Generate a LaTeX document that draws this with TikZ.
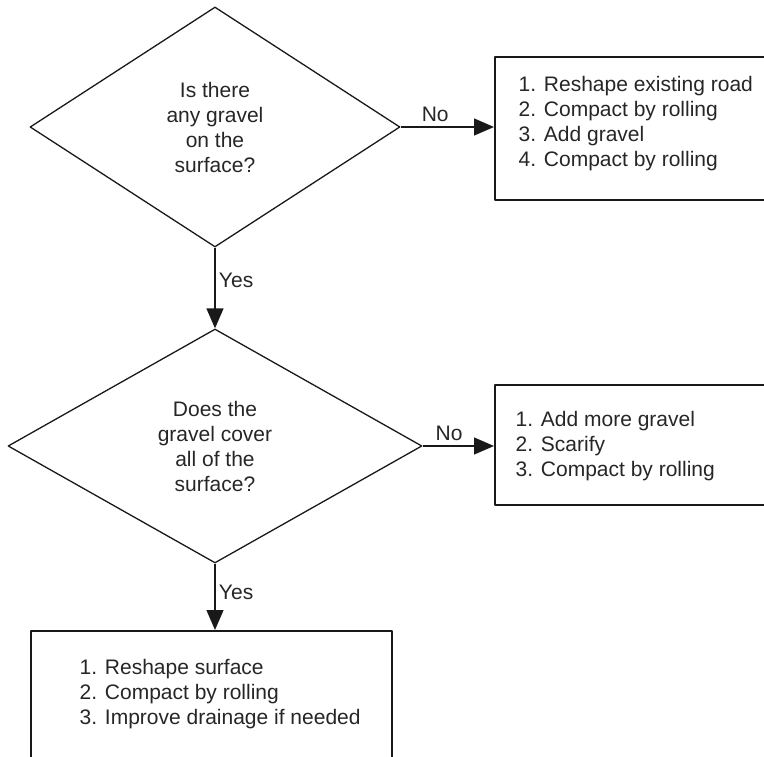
\documentclass[tikz,border=0pt]{standalone}
\usepackage{fontspec}
\setmainfont{Liberation Sans}
\usetikzlibrary{shapes.geometric,arrows.meta}

\begin{document}
\begin{tikzpicture}[x=1pt, y=-1pt, line join=round, line width=1.3pt, draw=black!90,
  every node/.style={font=\fontsize{21}{25}\selectfont, text=black!85},
  ask/.style={draw, diamond, inner sep=0pt, align=center},
  panel/.style={draw, rectangle, anchor=north west, inner sep=0pt, line width=1.8pt},
  steps/.style={anchor=north west, align=left, inner sep=0pt},
  flow/.style={-{Triangle[length=20pt,width=17pt]}}]
\clip (0,0) rectangle (764,757);
\node[ask, minimum width=370pt, minimum height=240pt] (q1) at (215,127) {Is there\\any gravel\\on the\\surface?};
\node[ask, minimum width=414pt, minimum height=234pt] (q2) at (215,446) {Does the\\gravel cover\\all of the\\surface?};
\node[panel, minimum width=320pt, minimum height=143pt] (b1) at (494,56) {};
\node[panel, minimum width=320pt, minimum height=120pt] (b2) at (494,384) {};
\node[panel, minimum width=361pt, minimum height=160pt] (b3) at (30,630) {};
\node[steps] (l1) at ([shift={(24,20)}]b1.north west) {1. Reshape existing road\\2. Compact by rolling\\3. Add gravel\\4. Compact by rolling};
\node[steps] (l2) at ([shift={(21,27)}]b2.north west) {1. Add more gravel\\2. Scarify\\3. Compact by rolling};
\node[steps] (l3) at ([shift={(49,29)}]b3.north west) {1. Reshape surface\\2. Compact by rolling\\3. Improve drainage if needed};
\draw[flow] (q1.east) -- node[above=1pt, pos=0.37] (no1) {No} (q1.east -| b1.west);
\draw[flow] (q2.east) -- node[above=1pt, pos=0.37] (no2) {No} (q2.east -| b2.west);
\draw[flow] (q1.south) -- node[right, pos=0.41] (yes1) {Yes} (q2.north);
\draw[flow] (q2.south) -- node[right, pos=0.44] (yes2) {Yes} (q2.south |- b3.north);
\end{tikzpicture}
\end{document}
